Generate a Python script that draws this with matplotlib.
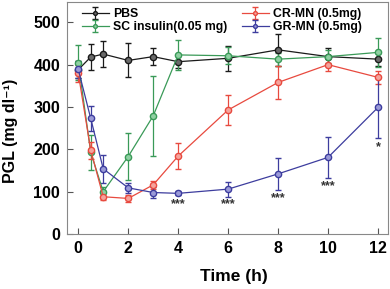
import numpy as np
import matplotlib
matplotlib.use("Agg")
import matplotlib.pyplot as plt

plt.rcParams['font.family'] = ['Liberation Sans', 'DejaVu Sans']
plt.rcParams['font.weight'] = 'bold'

# ---------------------------------------------------------------- data
t = [0, 0.5, 1, 2, 3, 4, 6, 8, 10, 12]

pbs     = [388, 418, 425, 410, 419, 407, 415, 435, 419, 413]
pbs_err = [20, 30, 30, 40, 20, 15, 30, 37, 20, 15]

sc      = [405, 193, 100, 183, 279, 423, 421, 413, 419, 429]
sc_err  = [42, 42, 10, 55, 95, 35, 20, 15, 15, 35]

cr      = [380, 198, 88, 84, 116, 184, 293, 358, 400, 370]
cr_err  = [20, 20, 8, 8, 10, 30, 35, 40, 15, 15]

gr      = [389, 273, 154, 109, 98, 96, 106, 142, 181, 299]
gr_err  = [20, 30, 33, 12, 12, 5, 18, 38, 48, 72]

star_t   = [4, 6, 8, 10, 12]
star_y   = [70, 70, 85, 113, 205]
star_txt = ["***", "***", "***", "***", "*"]

series = [
    ("PBS", pbs, pbs_err, "#1a1a1a", "#6a6a6a"),
    ("SC insulin(0.05 mg)", sc, sc_err, "#3a9a58", "#8fd0a2"),
    ("CR-MN (0.5mg)", cr, cr_err, "#e84a3f", "#f5a39c"),
    ("GR-MN (0.5mg)", gr, gr_err, "#3d3d9e", "#9a9ad8"),
]

# ---------------------------------------------------------------- figure
fig = plt.figure(figsize=(3.9, 2.89), dpi=100)
ax = fig.add_axes([67/390, 1 - 234/289, 321/390, 232/289])

handles = []
for name, y, e, c, fc in series:
    h = ax.errorbar(t, y, yerr=e, color=c, lw=0.9, marker="o", ms=4.5,
                    mfc=fc, mec=c, mew=1.0, elinewidth=0.9, capsize=2.5,
                    capthick=0.9, label=name)
    handles.append(h)

for x, y, s in zip(star_t, star_y, star_txt):
    ax.text(x, y, s, ha="center", va="center", fontsize=9, color="#333333")

ax.set_xlim(-0.45, 12.4)
ax.set_ylim(0, 548)
ax.set_xticks([0, 2, 4, 6, 8, 10, 12])
ax.set_yticks([0, 100, 200, 300, 400, 500])
ax.tick_params(direction="in", length=4, width=0.8, labelsize=11.5, pad=5,
               color="#555555")
for lab in ax.get_xticklabels() + ax.get_yticklabels():
    lab.set_fontweight("bold")
for sp in ax.spines.values():
    sp.set_color("#888888")
    sp.set_linewidth(0.8)

ax.set_xlabel("Time (h)", fontsize=12.5, fontweight="bold")
ax.xaxis.set_label_coords(0.52, -0.15)
fig.text(3/390, 1 - 131/289, "PGL (mg dl\u207b\u00b9)", rotation=90,
         ha="left", va="center", fontsize=11.5, fontweight="bold")

# legend order: col1 PBS, SC ; col2 CR, GR
leg = ax.legend(handles=handles, labels=[s[0] for s in series], ncol=2,
                loc="upper left", bbox_to_anchor=(0.023, 1.005), frameon=False,
                fontsize=8.8, handlelength=2.2, handletextpad=0.35,
                columnspacing=1.2, labelspacing=0.1, borderpad=0.1,
                markerscale=0.6)
for txt in leg.get_texts():
    txt.set_fontweight("bold")

fig.savefig("out.png", dpi=100)
